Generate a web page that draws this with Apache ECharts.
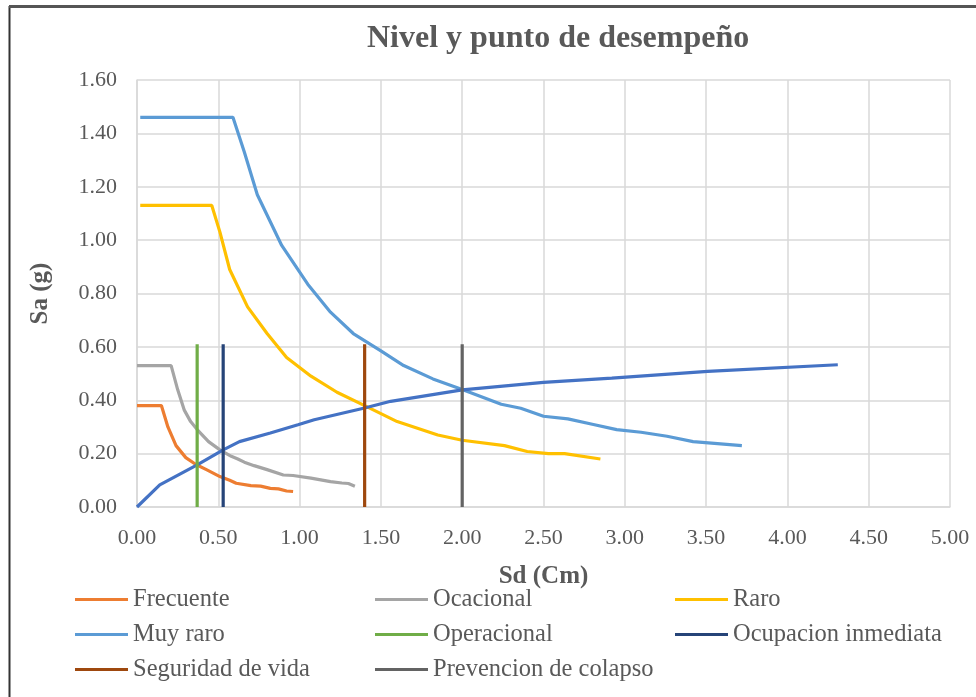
<!DOCTYPE html>
<html>
<head>
<meta charset="utf-8">
<script src="https://cdn.jsdelivr.net/npm/echarts@6/dist/echarts.min.js"></script>
<style>html,body{margin:0;padding:0;background:#fff}#c{width:976px;height:697px}</style>
</head>
<body>
<div id="c"></div>
<script>
const titleText = 'Nivel y punto de desempeño';
const xName = 'Sd (Cm)';
const yName = 'Sa (g)';
const seriesNames = ['Frecuente','Ocacional','Raro','Muy raro','Operacional','Ocupacion inmediata','Seguridad de vida','Prevencion de colapso'];
const capacityName = 'Curva de capacidad';

const frecuente = [[0,0.38],[0.15,0.38],[0.19,0.30],[0.24,0.23],[0.30,0.185],[0.36,0.16],[0.43,0.139],[0.51,0.114],[0.57,0.10],[0.61,0.089],[0.70,0.08],[0.76,0.078],[0.82,0.07],[0.87,0.068],[0.92,0.06],[0.96,0.058]];
const ocacional = [[0,0.53],[0.21,0.53],[0.25,0.44],[0.29,0.364],[0.33,0.32],[0.37,0.29],[0.44,0.245],[0.51,0.214],[0.58,0.19],[0.62,0.18],[0.66,0.168],[0.72,0.155],[0.80,0.14],[0.90,0.12],[0.96,0.118],[1.07,0.108],[1.19,0.095],[1.26,0.09],[1.30,0.088],[1.34,0.078]];
const raro = [[0.02,1.13],[0.46,1.13],[0.51,1.03],[0.57,0.89],[0.68,0.75],[0.80,0.65],[0.92,0.56],[1.07,0.49],[1.23,0.43],[1.40,0.38],[1.60,0.32],[1.85,0.27],[2.00,0.25],[2.26,0.23],[2.40,0.208],[2.53,0.2],[2.63,0.2],[2.85,0.18]];
const muyRaro = [[0.02,1.46],[0.59,1.46],[0.66,1.33],[0.74,1.17],[0.89,0.98],[1.05,0.835],[1.19,0.73],[1.33,0.65],[1.50,0.585],[1.64,0.53],[1.82,0.48],[2.00,0.44],[2.24,0.385],[2.36,0.37],[2.50,0.34],[2.65,0.33],[2.80,0.31],[2.95,0.29],[3.10,0.28],[3.26,0.265],[3.42,0.245],[3.72,0.23]];
const capacidad = [[0,0],[0.14,0.083],[0.37,0.158],[0.53,0.214],[0.63,0.245],[0.82,0.277],[0.99,0.308],[1.09,0.327],[1.40,0.371],[1.56,0.396],[2.00,0.439],[2.50,0.467],[2.92,0.483],[3.51,0.508],[4.31,0.533]];
const operacional = [[0.37,0],[0.37,0.61]];
const ocupacion = [[0.53,0],[0.53,0.61]];
const seguridad = [[1.40,0],[1.40,0.61]];
const prevencion = [[2.00,0],[2.00,0.61]];

const colors = ['#ED7D31','#A5A5A5','#FFC000','#5B9BD5','#70AD47','#264478','#9E480E','#636363'];
const capColor = '#4472C4';
const datasets = [frecuente, ocacional, raro, muyRaro, operacional, ocupacion, seguridad, prevencion];

const FONT = 'Liberation Serif';
const TXT = '#595959';

const series = datasets.map((d, i) => ({
  name: seriesNames[i], type: 'line', data: d, showSymbol: false, symbol: 'none',
  lineStyle: { color: colors[i], width: 3.2 }, itemStyle: { color: colors[i] }, animation: false, z: i >= 4 ? 3 : 2
}));
series.splice(4, 0, {
  name: capacityName, type: 'line', data: capacidad, showSymbol: false, symbol: 'none',
  lineStyle: { color: capColor, width: 3.2 }, itemStyle: { color: capColor }, animation: false, z: 2
});

function legendCol(left, names) {
  return {
    orient: 'vertical', left: left, top: 587, padding: 0, itemWidth: 53, itemHeight: 3, itemGap: 10, icon: 'rect',
    data: names, selectedMode: false,
    textStyle: { fontFamily: FONT, fontSize: 24.5, color: TXT, lineHeight: 24, padding: [0,0,0,0] }
  };
}

const chart = echarts.init(document.getElementById('c'));
chart.setOption({
  animation: false,
  color: colors,
  title: { text: titleText, left: 362, top: 18, textStyle: { fontFamily: FONT, fontSize: 32, fontWeight: 'bold', color: TXT } },
  graphic: [
    { type: 'line', shape: { x1: 9.5, y1: 6, x2: 9.5, y2: 697 }, style: { stroke: '#333', lineWidth: 2 } },
    { type: 'line', shape: { x1: 9, y1: 6.5, x2: 976, y2: 6.5 }, style: { stroke: '#555', lineWidth: 3 } }
  ],
  legend: [
    legendCol(75, [seriesNames[0], seriesNames[3], seriesNames[6]]),
    legendCol(375, [seriesNames[1], seriesNames[4], seriesNames[7]]),
    legendCol(675, [seriesNames[2], seriesNames[5]])
  ],
  grid: { left: 137, right: 26, top: 80, bottom: 190, containLabel: false },
  xAxis: {
    type: 'value', min: 0, max: 5, interval: 0.5,
    name: xName, nameLocation: 'middle', nameGap: 57,
    nameTextStyle: { fontFamily: FONT, fontSize: 25, fontWeight: 'bold', color: TXT },
    axisLine: { show: true, lineStyle: { color: '#D9D9D9', width: 1.5 } },
    axisTick: { show: false },
    axisLabel: { fontFamily: FONT, fontSize: 22, color: TXT, margin: 20, formatter: v => v.toFixed(2) },
    splitLine: { show: true, lineStyle: { color: '#D9D9D9', width: 1.5 } }
  },
  yAxis: {
    type: 'value', min: 0, max: 1.6, interval: 0.2,
    name: yName, nameLocation: 'middle', nameGap: 84,
    nameTextStyle: { fontFamily: FONT, fontSize: 25, fontWeight: 'bold', color: TXT },
    axisLine: { show: true, lineStyle: { color: '#D9D9D9', width: 1.5 } },
    axisTick: { show: false },
    axisLabel: { fontFamily: FONT, fontSize: 22, color: TXT, margin: 20, formatter: v => v.toFixed(2) },
    splitLine: { show: true, lineStyle: { color: '#D9D9D9', width: 1.5 } }
  },
  series: series
});
</script>
</body>
</html>
